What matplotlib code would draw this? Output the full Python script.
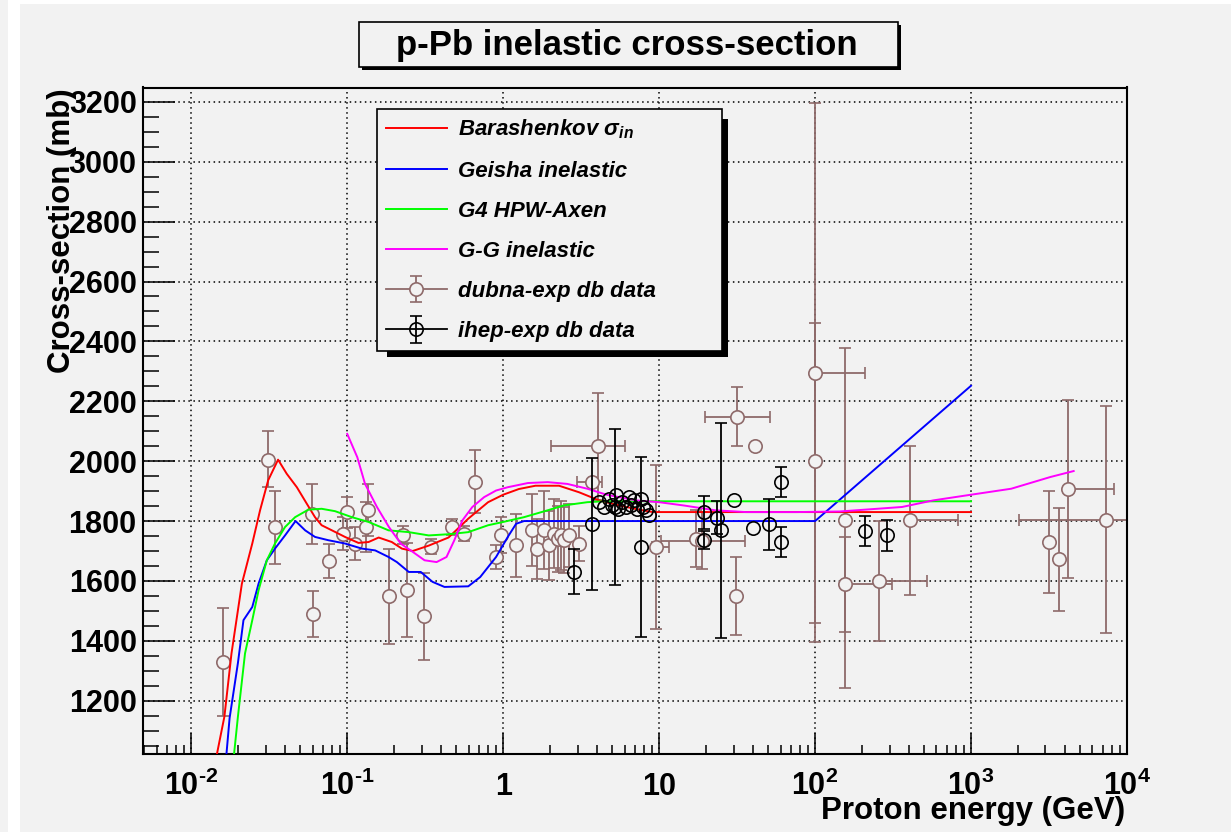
# -*- coding: utf-8 -*-

import numpy as np
import matplotlib.pyplot as plt
from matplotlib.lines import Line2D
from matplotlib.patches import Rectangle
from matplotlib.container import ErrorbarContainer
from matplotlib.legend_handler import HandlerErrorbar, HandlerTuple
from matplotlib.ticker import FixedLocator, FixedFormatter, MultipleLocator, LogLocator, NullFormatter

nan = np.nan

# Model curves: proton energy (GeV) vs inelastic cross-section (mb)
bar_e = [0.0146, 0.0163, 0.0181, 0.0211, 0.0246, 0.0276, 0.0311, 0.036, 0.0409, 0.0475,
         0.055, 0.0621, 0.0685, 0.0797, 0.0967, 0.118, 0.137, 0.159, 0.193, 0.224,
         0.263, 0.333, 0.446, 0.597, 0.80, 1.0, 1.26, 1.61, 2.28, 3.07,
         4.12, 5.55, 7.45, 9.1, 1000]
bar_s = [1022, 1147, 1358, 1591, 1725, 1836, 1936, 2005, 1958, 1913,
         1858, 1813, 1786, 1769, 1747, 1727, 1730, 1745, 1730, 1708,
         1700, 1718, 1745, 1808, 1863, 1888, 1907, 1918, 1918, 1896,
         1869, 1852, 1838, 1830, 1830]

gei_e = [0.0168, 0.0176, 0.0199, 0.0216, 0.0246, 0.027, 0.0305, 0.0344, 0.0399, 0.0466,
         0.0537, 0.0621, 0.0756, 0.0967, 0.124, 0.151, 0.184, 0.208, 0.248, 0.296,
         0.352, 0.42, 0.597, 0.712, 0.90, 1.07, 1.21, 1.36, 100, 1000]
gei_s = [1022, 1142, 1326, 1469, 1513, 1591, 1669, 1708, 1752, 1800,
         1769, 1747, 1736, 1725, 1708, 1702, 1680, 1663, 1630, 1630,
         1597, 1580, 1582, 1613, 1680, 1747, 1791, 1800, 1800, 2252]

axe_e = [0.0188, 0.0199, 0.0221, 0.0246, 0.027, 0.0305, 0.0344, 0.0399, 0.0463, 0.0563,
         0.0685, 0.0835, 0.107, 0.137, 0.184, 0.248, 0.333, 0.446, 0.597, 0.80,
         1.0, 1.36, 1.93, 2.44, 3.46, 4.38, 1000]
axe_s = [1022, 1147, 1358, 1469, 1569, 1669, 1725, 1780, 1813, 1838,
         1841, 1833, 1813, 1797, 1769, 1763, 1752, 1756, 1763, 1786,
         1797, 1813, 1836, 1852, 1863, 1866, 1866]

gg_e = [0.1, 0.116, 0.130, 0.155, 0.185, 0.221, 0.263, 0.313, 0.374, 0.433,
        0.486, 0.547, 0.634, 0.755, 0.90, 1.07, 1.44, 1.93, 2.58, 3.46,
        4.6, 7.1, 10, 14.4, 22.8, 36, 76, 144, 361, 572,
        1000, 1810, 3220, 4550]
gg_s = [2091, 2013, 1924, 1847, 1780, 1724, 1697, 1669, 1663, 1680,
        1736, 1802, 1847, 1880, 1902, 1913, 1927, 1930, 1924, 1908,
        1888, 1869, 1863, 1852, 1836, 1830, 1830, 1832, 1847, 1869,
        1888, 1908, 1947, 1967]

# dubna-exp data (nan = no error bar drawn)
dub_e = [0.016, 0.0308, 0.0344, 0.0604, 0.0591, 0.0768, 0.1, 0.0944, 0.112, 0.135,
         0.132, 0.184, 0.241, 0.227, 0.31, 0.344, 0.47, 0.56, 0.66, 0.90,
         0.97, 1.2, 1.52, 1.65, 1.83, 1.97, 2.12, 2.23, 2.34, 2.45,
         2.64, 3.07, 3.70, 4.08, 9.55, 17.3, 18.8, 31.6, 40.9, 30.9,
         100, 100, 155, 155, 257, 406, 3150, 3670, 4200, 7290]
dub_s = [1330, 2005, 1780, 1489, 1825, 1667, 1830, 1758, 1725, 1838,
         1780, 1549, 1571, 1752, 1482, 1714, 1780, 1758, 1931, 1681,
         1752, 1719, 1769, 1708, 1769, 1719, 1758, 1741, 1752, 1736,
         1752, 1725, 1930, 2049, 1713, 1741, 1735, 2149, 2052, 1549,
         2000, 2295, 1805, 1589, 1600, 1802, 1730, 1672, 1906, 1805]
dub_dn = [181, 92, 122, 76, 100, 58, 52, 55, 55, 87,
          85, 159, 157, 30, 145, 25, 28, 25, 105, 40,
          60, 105, 120, 100, 130, 115, 115, 110, 115, 110,
          105, 60, nan, 180, 275, 95, 95, 100, nan, 130,
          542, 900, 564, 158, 200, 250, 171, 171, 297, 380]
dub_up = [181, 97, 122, 76, 100, 58, 52, 55, 55, 87,
          85, 159, 157, 30, 145, 25, 28, 25, 105, 40,
          60, 105, 120, 100, 130, 115, 115, 110, 115, 110,
          105, 60, nan, 180, 275, 95, 95, 100, nan, 130,
          460, 900, 573, 158, 200, 250, 171, 171, 297, 380]
dub_xlo = [nan] * 32 + [0.71, 2.06, 0.6, nan, 8.5, 11.8, nan, nan,
                        nan, 0, nan, 0, 0, 0, nan, nan, 0, 5250]
dub_xhi = [nan] * 32 + [0.59, 1.98, 2.05, nan, 16.6, 19.4, nan, nan,
                        nan, 109, nan, 154, 268, 423, nan, nan, 4100, 5250]

# ihep-exp data
ihep_e = [2.85, 3.70, 5.2, 7.64,
          4.12, 4.44, 4.79, 5.02, 5.28, 5.41, 5.82, 6.12, 6.43, 6.59, 6.92, 7.17, 7.64, 7.83, 8.22, 8.56,
          19.5, 19.5, 23.4, 25.0, 30.0, 39.9, 50.6, 60.8, 60.8, 209, 290]
ihep_s = [1630, 1791, 1848, 1713,
          1864, 1847, 1875, 1852, 1886, 1841, 1864, 1847, 1880, 1852, 1869, 1841, 1875, 1847, 1836, 1819,
          1830, 1738, 1811, 1769, 1871, 1778, 1789, 1930, 1730, 1767, 1752]
ihep_err = [75, 220, 260, 300] + [nan] * 16 + [55, 30, 55, 360, nan, nan, 85, 50, 51, 51, 51]

legend_labels = ['Barashenkov $\\sigma_{in}$', 'Geisha inelastic', 'G4 HPW-Axen',
                 'G-G inelastic', 'dubna-exp db data', 'ihep-exp db data']
xtick_vals = [1e-2, 1e-1, 1, 10, 1e2, 1e3, 1e4]
xtick_text = ['$\\mathbf{10^{\\text{-}2}}$', '$\\mathbf{10^{\\text{-}1}}$', '1', '10',
              '$\\mathbf{10^{2}}$', '$\\mathbf{10^{3}}$', '$\\mathbf{10^{4}}$']

W, H = 1231, 832
bg = '#f2f2f2'
brown = '#8e6a6a'

plt.rcParams['font.family'] = ['Liberation Sans', 'DejaVu Sans']
plt.rcParams['font.weight'] = 'bold'
plt.rcParams['mathtext.fontset'] = 'custom'
plt.rcParams['mathtext.rm'] = 'Liberation Sans:bold'
plt.rcParams['mathtext.bf'] = 'Liberation Sans:bold'
plt.rcParams['mathtext.it'] = 'Liberation Sans:bold:italic'
plt.rcParams['mathtext.sf'] = 'Liberation Sans:bold'


def fx(px):
    return px / W


def fy(py):
    return 1 - py / H


fig = plt.figure(figsize=(W / 100, H / 100), dpi=100, facecolor=bg)
# screenshot edges
fig.add_artist(Rectangle((fx(8), 0), fx(12), 1, transform=fig.transFigure, color='white', lw=0))
fig.add_artist(Rectangle((fx(20), fy(4)), 1, 4 / H, transform=fig.transFigure, color='white', lw=0))

ax = fig.add_axes([fx(143), fy(754), fx(1127) - fx(143), fy(87.5) - fy(754)])
ax.set_facecolor(bg)
ax.set_xscale('log')
ax.set_xlim(4.9e-3, 1e4)
ax.set_ylim(1022, 3248)

# data and curves
dub = ax.errorbar(dub_e, dub_s, yerr=[dub_dn, dub_up], xerr=[dub_xlo, dub_xhi], fmt='o',
                  ms=9.6, mfc=bg, mec=brown, mew=1.2, ecolor=brown, elinewidth=1.3,
                  capsize=4, capthick=1.3, zorder=2)
l_bar, = ax.plot(bar_e, bar_s, color='#ff0000', lw=1.4, zorder=3)
l_gei, = ax.plot(gei_e, gei_s, color='#0000ff', lw=1.4, zorder=3)
l_axe, = ax.plot(axe_e, axe_s, color='#00ff00', lw=1.4, zorder=3)
l_gg, = ax.plot(gg_e, gg_s, color='#ff00ff', lw=1.4, zorder=3)
ihep = ax.errorbar(ihep_e, ihep_s, yerr=ihep_err, fmt='o', ms=9.6, mfc='none', mec='black',
                   mew=1.2, ecolor='black', elinewidth=1.3, capsize=4, capthick=1.3, zorder=4)

# axes styling
ax.set_axisbelow(True)
ax.grid(True, which='major', color='black', linestyle=(0, (1, 2.3)), linewidth=1.1)
for sp in ax.spines.values():
    sp.set_linewidth(1.5)

ax.xaxis.set_major_locator(FixedLocator(xtick_vals))
ax.xaxis.set_major_formatter(FixedFormatter(xtick_text))
ax.xaxis.set_minor_locator(LogLocator(base=10, subs=np.arange(2, 10), numticks=50))
ax.xaxis.set_minor_formatter(NullFormatter())
ax.yaxis.set_major_locator(MultipleLocator(200))
ax.yaxis.set_minor_locator(MultipleLocator(50))

ax.tick_params(which='both', direction='in', top=False, right=False, width=1.1)
ax.tick_params(axis='x', which='major', length=15, labelsize=22, pad=29.5)
ax.tick_params(axis='x', which='minor', length=6.5)
ax.tick_params(axis='y', which='major', length=23, labelsize=22, pad=4.5)
ax.tick_params(axis='y', which='minor', length=11.5)
for t in ax.xaxis.get_major_ticks():
    t.label1.set_verticalalignment('baseline')

# axis titles, ROOT style
fig.text(fx(62), fy(88), 'Cross-section (mb)', rotation=90, ha='center', va='top',
         fontsize=22.5, fontweight='bold')
fig.text(fx(1125), fy(819), 'Proton energy (GeV)', ha='right', va='baseline',
         fontsize=22.5, fontweight='bold')

# title pave with shadow
fig.add_artist(Rectangle((fx(362), fy(70)), fx(901) - fx(362), fy(25) - fy(70),
                         transform=fig.transFigure, color='black', lw=0))
fig.add_artist(Rectangle((fx(359), fy(67)), fx(898) - fx(359), fy(22) - fy(67),
                         transform=fig.transFigure, facecolor=bg, edgecolor='black', lw=1.2))
fig.text(fx(627), fy(46), 'p-Pb inelastic cross-section', ha='center', va='center',
         fontsize=25, fontweight='bold')

# legend
dub_proxy = ErrorbarContainer(dub.lines, has_xerr=False, has_yerr=True)
handles = [l_bar, l_gei, l_axe, l_gg,
           (Line2D([], [], color=brown, lw=1.3), dub_proxy),
           (Line2D([], [], color='black', lw=1.3), ihep)]
x0 = (377 - 143) / 984
x1 = (722 - 143) / 984
ytop = (754 - 109) / 666.5
leg = ax.legend(handles, legend_labels, loc='upper left', bbox_to_anchor=(x0, ytop - 0.4, x1 - x0, 0.4),
                mode='expand', prop={'size': 16, 'weight': 'bold', 'style': 'italic'},
                fancybox=False, edgecolor='black', facecolor=bg, framealpha=1,
                borderaxespad=0, borderpad=0.4, labelspacing=0.86, handlelength=2.75,
                handletextpad=0.5,
                handler_map={ErrorbarContainer: HandlerErrorbar(xerr_size=0.6),
                             tuple: HandlerTuple(ndivide=1)})
leg.get_frame().set_linewidth(1.2)
leg.set_zorder(6)

fig.canvas.draw()
bb = leg.get_window_extent().transformed(ax.transAxes.inverted())
dx = 1 / 984
dy = 1 / 666.5
ax.add_patch(Rectangle((bb.x0 + 10 * dx, bb.y0 - 6 * dy), bb.width - 4 * dx, bb.height - 4 * dy,
                       transform=ax.transAxes, color='black', lw=0, zorder=5.9, clip_on=False))

fig.savefig('out.png', dpi=100, facecolor=bg)
